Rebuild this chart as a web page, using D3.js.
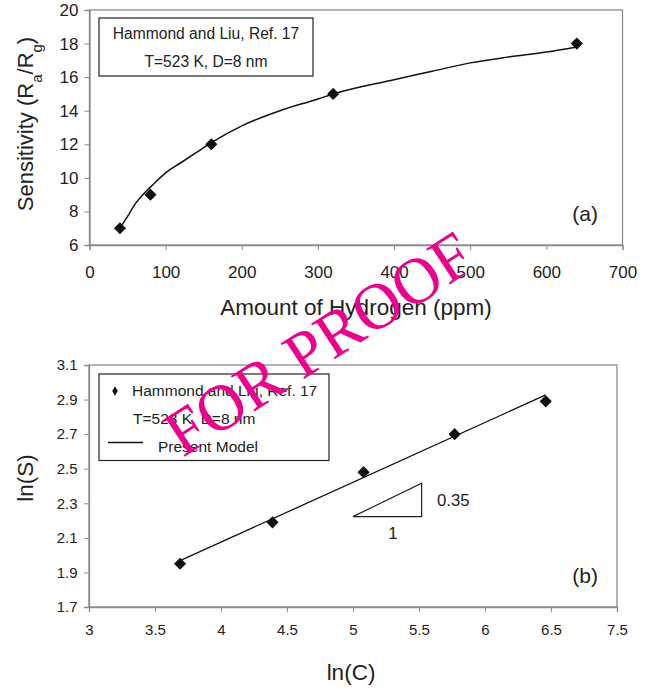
<!DOCTYPE html>
<html>
<head>
<meta charset="utf-8">
<script src="https://cdn.jsdelivr.net/npm/d3@7"></script>
<style>
  body { margin: 0; background: #fff; }
  svg text { font-family: "Liberation Sans", Arial, sans-serif; fill: #222; }
</style>
</head>
<body>
<div id="chart-area"></div>
<script>
// (a) measured points and fitted curve
var ppm = [40, 80, 160, 320, 640];
var sensitivity = [7, 9, 12, 15, 18];
var curvePpm = [40, 50, 60, 70, 80, 100, 120, 140, 160, 200, 250, 300, 320, 400, 450, 500, 550, 600, 640];
var curveS = [7.0, 7.7, 8.45, 9.0, 9.45, 10.3, 10.9, 11.5, 12.1, 13.1, 14.0, 14.7, 15.0, 15.85, 16.35, 16.85, 17.2, 17.5, 17.8];

// (b) log-log data and model line
var lnC = [3.69, 4.39, 5.08, 5.77, 6.46];
var lnS = [1.95, 2.19, 2.48, 2.70, 2.89];
var modelLnC = [3.69, 6.46];
var modelLnS = [1.968, 2.927];
var triLnC = [5.0, 5.52, 5.52];
var triLnS = [2.223, 2.223, 2.416];

var xTicksA = [0, 100, 200, 300, 400, 500, 600, 700];
var yTicksA = [6, 8, 10, 12, 14, 16, 18, 20];
var xTicksB = [3, 3.5, 4, 4.5, 5, 5.5, 6, 6.5, 7];
var xTickLabelsB = ["3", "3.5", "4", "4.5", "5", "5.5", "6", "6.5", "7.5"];
var yTicksB = [1.7, 1.9, 2.1, 2.3, 2.5, 2.7, 2.9, 3.1];

var width = 649, height = 691;
var frameColor = "#8a8a8a";

var svg = d3.select("#chart-area")
    .append("svg")
    .attr("width", width)
    .attr("height", height);

var diamond = d3.symbol().type(d3.symbolSquare).size(74);

function frame(x, y) {
    svg.append("rect")
        .attr("x", x.range()[0])
        .attr("y", y.range()[1])
        .attr("width", x.range()[1] - x.range()[0])
        .attr("height", y.range()[0] - y.range()[1])
        .attr("fill", "none")
        .attr("stroke", frameColor)
        .attr("stroke-width", 1.3);
}

function styleAxis(g, fs) {
    g.select(".domain").attr("stroke", frameColor).attr("stroke-width", 1.3);
    g.selectAll(".tick line").attr("stroke", frameColor);
    g.selectAll(".tick text")
        .attr("fill", "#222")
        .style("font-size", fs + "px")
        .style("font-family", "'Liberation Sans', Arial, sans-serif");
}

// ---------- panel (a) ----------
var xA = d3.scaleLinear().domain([0, 700]).range([89.5, 622.5]);
var yA = d3.scaleLinear().domain([6, 20]).range([245, 10]);

frame(xA, yA);

svg.append("g")
    .attr("transform", "translate(0," + yA(6) + ")")
    .call(d3.axisBottom(xA).tickValues(xTicksA).tickSize(5).tickPadding(16))
    .call(styleAxis, 17);

svg.append("g")
    .attr("transform", "translate(" + xA(0) + ",0)")
    .call(d3.axisLeft(yA).tickValues(yTicksA).tickSize(5).tickPadding(6))
    .call(styleAxis, 17);

var lineA = d3.line()
    .x((d) => xA(d[0]))
    .y((d) => yA(d[1]))
    .curve(d3.curveMonotoneX);

svg.append("path")
    .datum(d3.zip(curvePpm, curveS))
    .attr("d", lineA)
    .attr("fill", "none")
    .attr("stroke", "#111")
    .attr("stroke-width", 1.5);

svg.selectAll(".ptA")
    .data(d3.zip(ppm, sensitivity))
    .enter().append("path")
    .attr("class", "ptA")
    .attr("d", diamond)
    .attr("transform", (d) => "translate(" + xA(d[0]) + "," + yA(d[1]) + ") rotate(45)")
    .attr("fill", "#111");

// legend box (a)
svg.append("rect")
    .attr("x", 99).attr("y", 18)
    .attr("width", 214).attr("height", 58)
    .attr("fill", "#fff")
    .attr("stroke", "#222")
    .attr("stroke-width", 1.2);
svg.append("text").attr("x", 206).attr("y", 39)
    .attr("text-anchor", "middle").style("font-size", "15.6px")
    .text("Hammond and Liu, Ref. 17");
svg.append("text").attr("x", 206).attr("y", 66.5)
    .attr("text-anchor", "middle").style("font-size", "15.6px")
    .text("T=523 K, D=8 nm");

svg.append("text").attr("x", 598).attr("y", 221)
    .attr("text-anchor", "end").style("font-size", "21px")
    .text("(a)");

svg.append("text")
    .attr("x", xA(350)).attr("y", 315)
    .attr("text-anchor", "middle").style("font-size", "22.5px")
    .text("Amount of Hydrogen (ppm)");

var yLabelA = svg.append("text")
    .attr("transform", "translate(33," + 124 + ") rotate(-90)")
    .attr("text-anchor", "middle").style("font-size", "22px");
yLabelA.append("tspan").text("Sensitivity (R");
yLabelA.append("tspan").attr("baseline-shift", "sub").style("font-size", "15px").text("a");
yLabelA.append("tspan").text("/R");
yLabelA.append("tspan").attr("baseline-shift", "sub").style("font-size", "15px").text("g");
yLabelA.append("tspan").text(")");

// ---------- panel (b) ----------
var xB = d3.scaleLinear().domain([3, 7]).range([89, 617]);
var yB = d3.scaleLinear().domain([1.7, 3.1]).range([607, 365]);

frame(xB, yB);

svg.append("g")
    .attr("transform", "translate(0," + yB(1.7) + ")")
    .call(d3.axisBottom(xB).tickValues(xTicksB).tickSize(5).tickPadding(12)
        .tickFormat((d, i) => xTickLabelsB[i]))
    .call(styleAxis, 15);

svg.append("g")
    .attr("transform", "translate(" + xB(3) + ",0)")
    .call(d3.axisLeft(yB).tickValues(yTicksB).tickSize(5).tickPadding(6.5)
        .tickFormat(d3.format(".1f")))
    .call(styleAxis, 15);

var lineB = d3.line()
    .x((d) => xB(d[0]))
    .y((d) => yB(d[1]));

svg.append("path")
    .datum(d3.zip(modelLnC, modelLnS))
    .attr("d", lineB)
    .attr("fill", "none")
    .attr("stroke", "#111")
    .attr("stroke-width", 1.3);

svg.selectAll(".ptB")
    .data(d3.zip(lnC, lnS))
    .enter().append("path")
    .attr("class", "ptB")
    .attr("d", diamond)
    .attr("transform", (d) => "translate(" + xB(d[0]) + "," + yB(d[1]) + ") rotate(45)")
    .attr("fill", "#111");

// slope triangle
svg.append("path")
    .datum(d3.zip(triLnC, triLnS))
    .attr("d", (d) => lineB(d) + "Z")
    .attr("fill", "none")
    .attr("stroke", "#222")
    .attr("stroke-width", 1.2);
svg.append("text").attr("x", 437).attr("y", 505.5)
    .style("font-size", "16.8px").text("0.35");
svg.append("text").attr("x", 393).attr("y", 539)
    .attr("text-anchor", "middle").style("font-size", "16.8px").text("1");

// legend box (b)
svg.append("rect")
    .attr("x", 99).attr("y", 374)
    .attr("width", 230).attr("height", 86.5)
    .attr("fill", "#fff")
    .attr("stroke", "#222")
    .attr("stroke-width", 1.2);
svg.append("path")
    .attr("d", d3.symbol().type(d3.symbolDiamond).size(26))
    .attr("transform", "translate(115,391)")
    .attr("fill", "#111");
svg.append("text").attr("x", 132).attr("y", 396)
    .style("font-size", "15.5px").text("Hammond and Liu, Ref. 17");
svg.append("text").attr("x", 133).attr("y", 424)
    .style("font-size", "15.5px").text("T=523 K, D=8 nm");
svg.append("line")
    .attr("x1", 108).attr("x2", 143)
    .attr("y1", 442.5).attr("y2", 442.5)
    .attr("stroke", "#111").attr("stroke-width", 1.3);
svg.append("text").attr("x", 158).attr("y", 452)
    .style("font-size", "15.5px").text("Present Model");

svg.append("text").attr("x", 598).attr("y", 583)
    .attr("text-anchor", "end").style("font-size", "21px")
    .text("(b)");

svg.append("text")
    .attr("x", 351).attr("y", 680)
    .attr("text-anchor", "middle").style("font-size", "22.5px")
    .text("ln(C)");

svg.append("text")
    .attr("transform", "translate(33,478) rotate(-90)")
    .attr("text-anchor", "middle").style("font-size", "22.5px")
    .text("ln(S)");

// watermark
svg.append("text")
    .attr("transform", "translate(318,343) rotate(-33)")
    .attr("text-anchor", "middle")
    .attr("dy", "0.35em")
    .style("font-family", "'Liberation Serif', 'Times New Roman', serif")
    .style("font-size", "65px")
    .style("fill", "#ec008c")
    .text("FOR PROOF");
</script>
</body>
</html>
